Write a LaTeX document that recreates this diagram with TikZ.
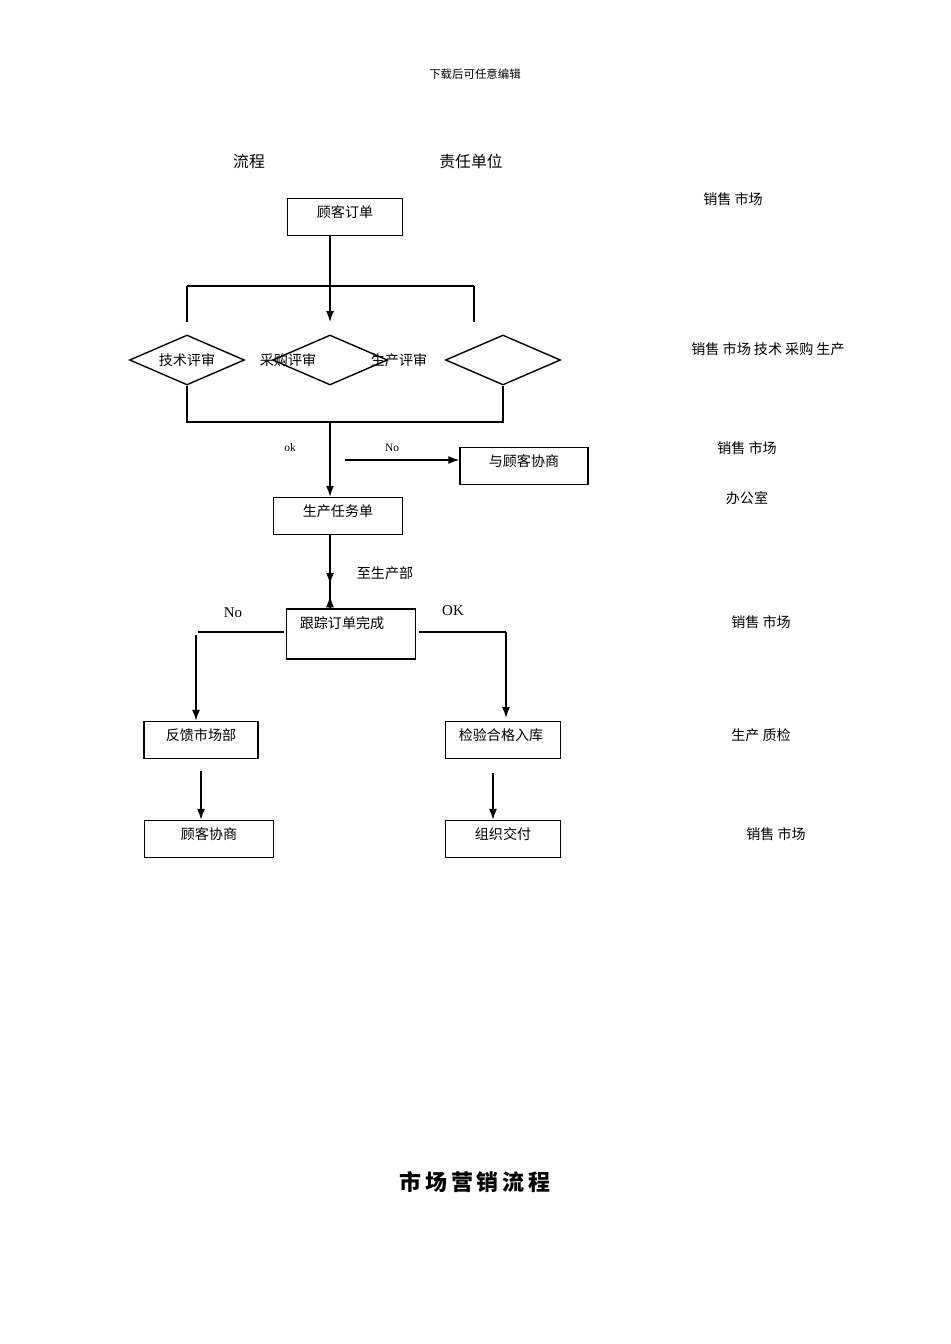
\documentclass[tikz,border=0pt]{standalone}
\usepackage{fontspec}
\setmainfont{Liberation Serif}
\newfontfamily\cjk{Noto Sans CJK SC}
\usetikzlibrary{shapes.geometric,arrows.meta}
\tikzset{
    box/.style={draw, thick, minimum width=#1, minimum height=0.74cm, inner sep=0pt},
    dia/.style={draw, thick, diamond, aspect=2.3, minimum width=2.3cm, minimum height=1cm, inner sep=0pt},
    txt/.style={font=\cjk\fontsize{8}{9}\selectfont, inner sep=0pt},
    arr/.style={thick, -{Latex[length=2.2mm,width=1.6mm]}},
    ln/.style={thick}
}
\begin{document}
\begin{tikzpicture}[x=0.02cm, y=-0.02cm]
    \useasboundingbox (0,0) rectangle (950,1344);

    % header and column titles
    \node[txt, font=\cjk\fontsize{6.5}{8}\selectfont] (head) at (475,74) {下载后可任意编辑};
    \node[txt, font=\cjk\fontsize{9}{10}\selectfont] (flow) at (249,161) {流程};
    \node[txt, font=\cjk\fontsize{9}{10}\selectfont] (unit) at (471,161) {责任单位};

    % order and reviews
    \node[box=2.3cm] (order) at (345,217) {};
    \node[txt] at (345,212) {顾客订单};
    \node[dia] (techrev) at (187,360) {};
    \node[dia] (buyrev) at (330,360) {};
    \node[dia] (prodrev) at (503,360) {};
    \node[txt] (techtxt) at (187,360) {技术评审};
    \node[txt] (buytxt) at (288,360) {采购评审};
    \node[txt] (prodtxt) at (399,360) {生产评审};

    \coordinate (split) at (330,286);
    \coordinate (splitL) at (187,286);
    \coordinate (splitR) at (474,286);
    \coordinate (join) at (330,422);
    \coordinate (joinL) at (187,422);
    \coordinate (joinR) at (503,422);
    \draw[ln] (order.south -| split) -- (split);
    \draw[ln] (splitL) -- (splitR);
    \draw[ln] (splitL) -- (187,322);
    \draw[ln] (splitR) -- (474,322);
    \draw[arr] (split) -- (330,322);
    \draw[ln] (techrev.south) -- (joinL) -- (joinR) -- (prodrev.south);

    % task sheet and negotiation
    \node[box=2.58cm] (task) at (338,516) {};
    \node[txt] at (338,511) {生产任务单};
    \node[box=2.56cm] (nego) at (524,466) {};
    \node[txt] at (524,461) {与顾客协商};
    \draw[arr] (join) -- (task.north -| join);
    \node[font=\fontsize{6.5}{8}\selectfont] at (290,448) {ok};
    \node[font=\fontsize{6.5}{8}\selectfont] at (392,448) {No};
    \coordinate (nostart) at (345,460);
    \draw[arr] (nostart) -- (nego.west |- nostart);

    % tracking
    \node[box=2.58cm, minimum height=1cm] (track) at (351,634) {};
    \node[txt] at (342,623) {跟踪订单完成};
    \draw[arr] (task.south -| join) -- (track.north -| join) ++(0,-12);
    \draw[arr] (330,535) -- (330,584);
    \node[txt] at (385,573) {至生产部};
    \node[font=\fontsize{8.5}{9}\selectfont] at (233,613) {No};
    \node[font=\fontsize{8.5}{9}\selectfont] at (453,611) {OK};

    % results
    \node[box=2.28cm] (feedback) at (201,740) {};
    \node[txt] at (201,735) {反馈市场部};
    \node[box=2.3cm] (check) at (503,740) {};
    \node[txt] at (501,735) {检验合格入库};
    \node[box=2.58cm] (custneg) at (209,839) {};
    \node[txt] at (209,834) {顾客协商};
    \node[box=2.3cm] (deliver) at (503,839) {};
    \node[txt] at (503,834) {组织交付};

    \coordinate (leftturn) at (198,632);
    \coordinate (rightturn) at (506,632);
    \draw[ln] (284,632) -- (leftturn);
    \draw[arr] (196,635) -- (feedback.north -| 196,0);
    \draw[ln] (419,632) -- (rightturn);
    \draw[arr] (rightturn) -- (506,718);
    \draw[arr] (201,771) -- (custneg.north -| 201,0);
    \draw[arr] (493,773) -- (deliver.north -| 493,0);

    % responsible units
    \node[txt] (r1) at (733,199) {销售\ 市场};
    \node[txt] (r2) at (768,349) {销售\ 市场 技术 采购 生产};
    \node[txt] (r3) at (747,448) {销售\ 市场};
    \node[txt] (r4) at (747,498) {办公室};
    \node[txt] (r5) at (761,622) {销售\ 市场};
    \node[txt] (r6) at (761,735) {生产 质检};
    \node[txt] (r7) at (776,834) {销售\ 市场};

    % title
    \node[font=\cjk\bfseries\fontsize{12.5}{14}\selectfont] (title) at (475,1182) {市\,场\,营\,销\,流\,程};
\end{tikzpicture}
\end{document}
